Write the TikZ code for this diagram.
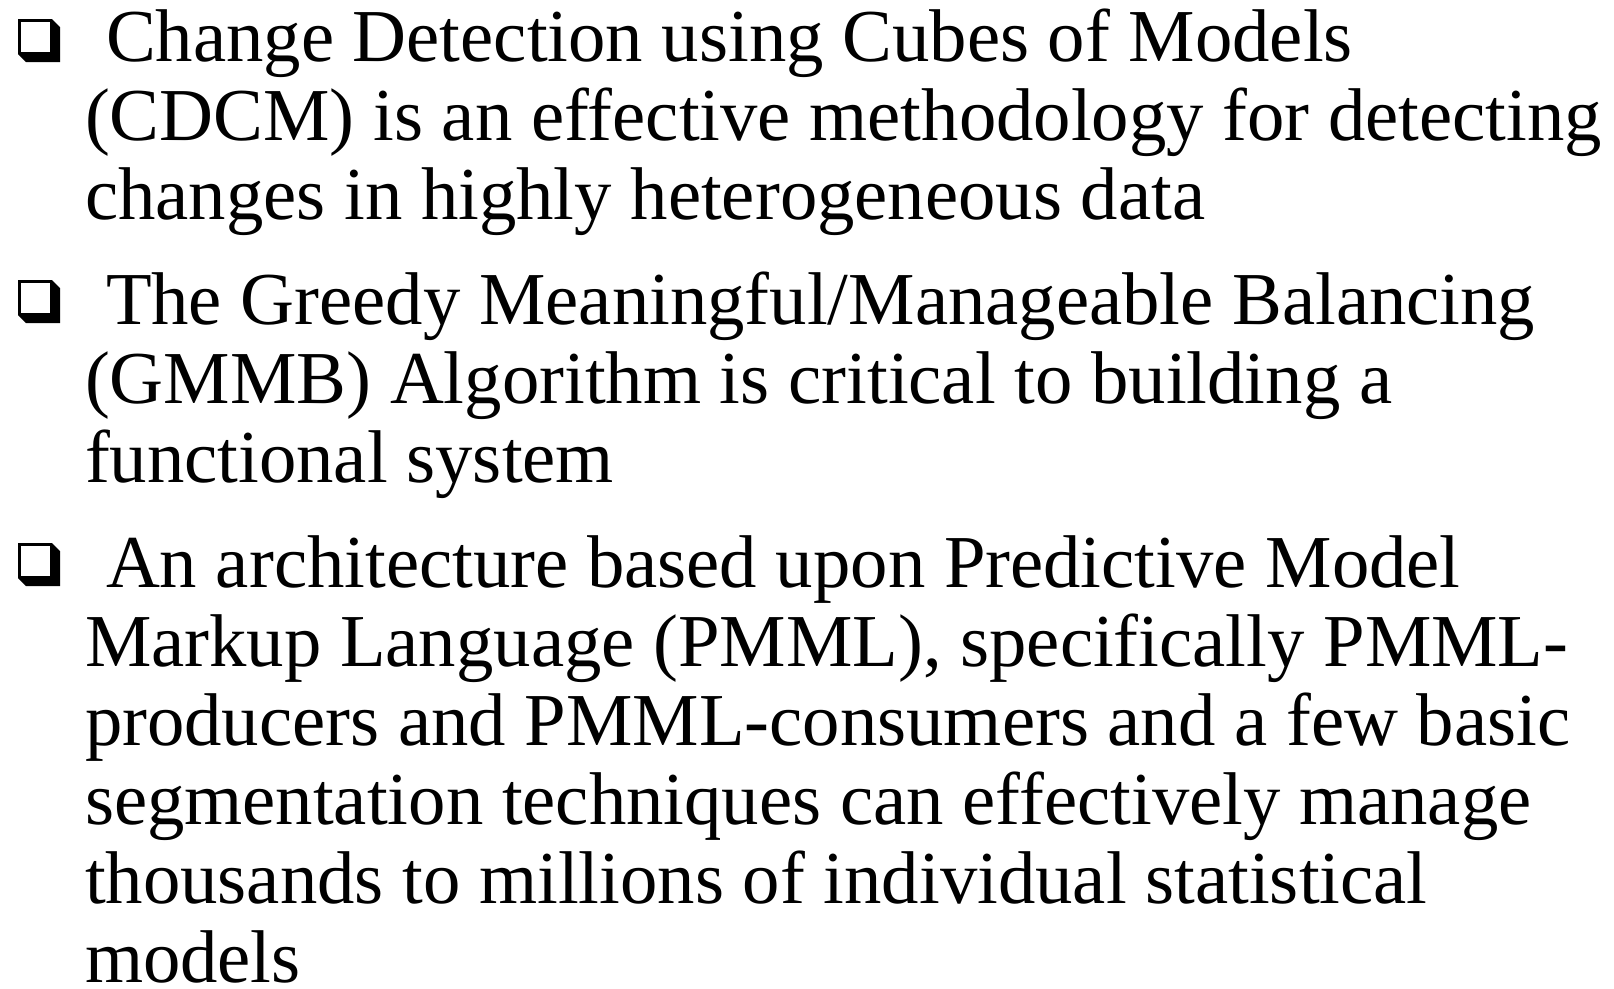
\documentclass[tikz,border=0pt]{standalone}
\usepackage{fontspec}
\setmainfont{Liberation Serif}
\begin{document}
\begin{tikzpicture}[x=1pt,y=-1pt,
  line/.style={anchor=base west,inner sep=0pt,outer sep=0pt,
    font=\fontsize{74.7}{79}\selectfont}]
\useasboundingbox[fill=white] (0,0) rectangle (1614,988);
% shadowed square bullet, top-left corner at the given point
\newcommand\shadowbox[2]{%
  \begin{scope}[shift={(#1,#2)}]
    \fill[black] (0,0) -- (34,0) -- (42,8) -- (42,43) -- (8,43) -- (0,35) -- cycle;
    \fill[white] (2.5,2.5) rectangle (32,33);
  \end{scope}}
\shadowbox{18}{19}
\shadowbox{18}{280}
\shadowbox{18}{543}
% first item
\node[line] (l1) at (106,61) {Change Detection using Cubes of Models};
\node[line] (l2) at (85,140) {(CDCM) is an effective methodology for detecting};
\node[line] (l3) at (85,219) {changes in highly heterogeneous data};
% second item
\node[line] (l4) at (106,324) {The Greedy Meaningful/Manageable Balancing};
\node[line] (l5) at (85,403) {(GMMB) Algorithm is critical to building a};
\node[line] (l6) at (85,482) {functional system};
% third item
\node[line] (l7) at (106,587) {An architecture based upon Predictive Model};
\node[line] (l8) at (85,666) {Markup Language (PMML), specifically PMML-};
\node[line] (l9) at (85,745) {producers and PMML-consumers and a few basic};
\node[line] (l10) at (85,824) {segmentation techniques can effectively manage};
\node[line] (l11) at (85,903) {thousands to millions of individual statistical};
\node[line] (l12) at (85,982) {models};
\end{tikzpicture}
\end{document}
